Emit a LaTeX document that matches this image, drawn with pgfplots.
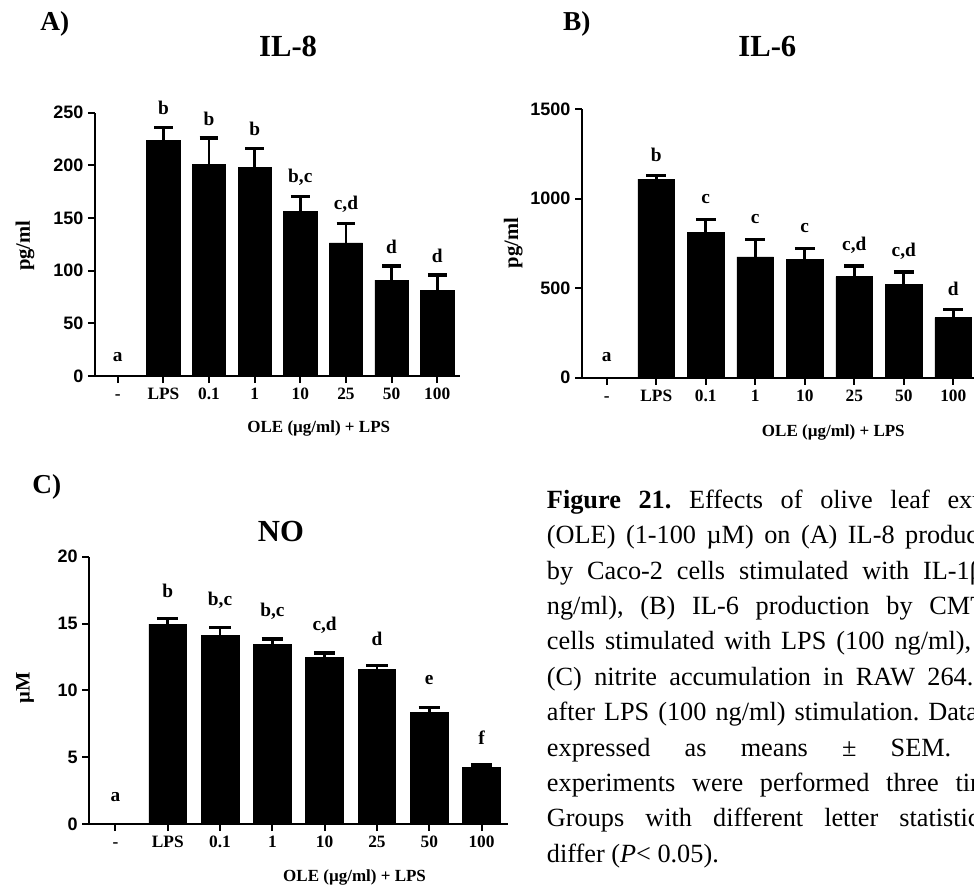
\documentclass[border=0pt]{standalone}
\usepackage{fontspec}
\setmainfont{Liberation Serif}
\newfontfamily\sansf{Liberation Sans}
\usepackage{pgfplots}
\usepackage{pgfplotstable}
\pgfplotsset{compat=1.18}
\frenchspacing

% x = category index (0 = "-", 1 = LPS, 2 = 0.1, ... 7 = 100), y = mean, e = SEM, lab = letter
\pgfplotstableread{
x y e lab
0 0 0 a
1 223.4 12.6 b
2 201.0 25.0 b
3 198.4 17.4 b
4 156.0 14.2 {b,c}
5 126.3 18.7 {c,d}
6 91.1 13.3 d
7 81.6 14.3 d
}\dataA
\pgfplotstableread{
x y e lab
0 0 0 a
1 1109 20 b
2 811 71 c
3 674 96 c
4 658 62 c
5 564 59 {c,d}
6 523 67 {c,d}
7 335 47 d
}\dataB
\pgfplotstableread{
x y e lab
0 0 0 a
1 14.96 0.43 b
2 14.11 0.57 {b,c}
3 13.46 0.38 {b,c}
4 12.47 0.32 {c,d}
5 11.57 0.27 d
6 8.38 0.32 e
7 4.21 0.20 f
}\dataC

\pgfplotsset{
  panel/.style={
    scale only axis,
    axis x line*=bottom, axis y line*=left,
    axis line style={line width=1.5pt, black},
    every tick/.style={line width=1.5pt, black},
    major tick length=5.25pt,
    tick align=outside,
    xmin=-0.5, xmax=7.5, ymin=0,
    xtick={0,...,7},
    xticklabels={-,LPS,0.1,1,10,25,50,100},
    xticklabel style={font=\bfseries\fontsize{13}{14}\selectfont, text height=9pt, text depth=0pt, anchor=north},
    yticklabel style={font=\sansf\bfseries\fontsize{13.5}{15}\selectfont},
    /pgf/number format/assume math mode=true,
    /pgf/number format/1000 sep={},
    minor tick num=0,
    clip=false,
    xlabel={OLE (µg/ml) + LPS},
    xlabel style={font=\bfseries\fontsize{12.75}{14}\selectfont, anchor=center, yshift=-1.5pt},
    ylabel style={font=\bfseries\fontsize{15.4}{17}\selectfont, anchor=center},
    title style={font=\bfseries\fontsize{23}{26}\selectfont, anchor=center, yshift=-5pt},
  },
  bars/.style={ybar, fill=black, draw=black, line width=0.5pt,
    skip coords between index={0}{1},
    error bars/y dir=plus, error bars/y explicit,
    error bars/error bar style={line width=2pt, black},
    error bars/error mark options={rotate=90, line width=2.4pt, mark size=#1, black}},
  letters/.style={draw=none, mark=none, nodes near coords, point meta=explicit symbolic,
    nodes near coords style={font=\bfseries\fontsize{14.5}{16}\selectfont, text=black, anchor=center, yshift=#1}},
}

\begin{document}
\begin{tikzpicture}[x=0.75pt, y=-0.75pt]
\useasboundingbox (0,0) rectangle (974,885);
\clip (0,0) rectangle (974,885);

% ---------------- A) IL-8
\begin{axis}[panel, at={(71.25pt,-282pt)}, anchor=south west,
  width=273.75pt, height=197.5pt,
  ymax=250, ytick={0,50,...,250},
  ylabel={pg/ml},
  ylabel style={at={(axis description cs:-0.192,0.4945)}},
  xlabel style={at={(axis description cs:0.613,-0.1926)}},
  title={IL-8},
  title style={at={(axis description cs:0.529,1.247)}},
]
\addplot[bars=7pt, bar width=25pt] table[x=x, y=y, y error=e] {\dataA};
\addplot[letters=14.5pt] table[x=x, y expr=\thisrow{y}+\thisrow{e}, meta=lab] {\dataA};
\end{axis}

% ---------------- B) IL-6
\begin{axis}[panel, at={(436.5pt,-283.3pt)}, anchor=south west,
  width=297pt, height=201.6pt,
  ymax=1500, ytick={0,500,1000,1500},
  ylabel={pg/ml},
  ylabel style={at={(axis description cs:-0.1735,0.501)}},
  xlabel style={at={(axis description cs:0.6346,-0.1946)}},
  title={IL-6},
  title style={at={(axis description cs:0.468,1.2277)}},
]
\addplot[bars=7.5pt, bar width=27.5pt] table[x=x, y=y, y error=e] {\dataB};
\addplot[letters=15.5pt] table[x=x, y expr=\thisrow{y}+\thisrow{e}, meta=lab] {\dataB};
\end{axis}

% ---------------- C) NO
\begin{axis}[panel, at={(66.98pt,-618pt)}, anchor=south west,
  width=313.8pt, height=200.5pt,
  ymax=20, ytick={0,5,...,20},
  ylabel={µM},
  ylabel style={at={(axis description cs:-0.1537,0.508)}},
  xlabel style={at={(axis description cs:0.634,-0.191)}},
  title={NO},
  title style={at={(axis description cs:0.458,1.0875)}},
]
\addplot[bars=8pt, bar width=28.3pt] table[x=x, y=y, y error=e] {\dataC};
\addplot[letters=20.5pt] table[x=x, y expr=\thisrow{y}+\thisrow{e}, meta=lab] {\dataC};
\end{axis}

% panel letters
\node[font=\bfseries\fontsize{20.5}{23}\selectfont] at (54.7,24) {A)};
\node[font=\bfseries\fontsize{20.5}{23}\selectfont] at (576.7,24) {B)};
\node[font=\bfseries\fontsize{20.5}{23}\selectfont] at (46.7,486.7) {C)};

% caption (justified column, cut by the right edge as in the reference)
\begin{scope}[every node/.style={anchor=base west, inner sep=0pt, font=\fontsize{19.7}{24}\selectfont}]
\node at (546.7,508.5) {\makebox[354pt][s]{\textbf{Figure 21.} Effects of olive leaf extract}};
\node at (546.7,543.9) {\makebox[354pt][s]{(OLE) (1-100 µM) on (A) IL-8 production}};
\node at (546.7,579.2) {\makebox[354pt][s]{by Caco-2 cells stimulated with IL-1β (1}};
\node at (546.7,614.6) {\makebox[354pt][s]{ng/ml), (B) IL-6 production by CMT-93}};
\node at (546.7,649.9) {\makebox[354pt][s]{cells stimulated with LPS (100 ng/ml), and}};
\node at (546.7,685.3) {\makebox[375pt][s]{(C) nitrite accumulation in RAW 264.7 cells}};
\node at (546.7,720.6) {\makebox[354pt][s]{after LPS (100 ng/ml) stimulation. Data are}};
\node at (546.7,756.0) {\makebox[354pt][s]{expressed as means ± SEM. All}};
\node at (546.7,791.3) {\makebox[354pt][s]{experiments were performed three times.}};
\node at (546.7,826.7) {\makebox[354pt][s]{Groups with different letter statistically}};
\node at (546.7,862.0) {differ (\textit{P}< 0.05).};
\end{scope}
\end{tikzpicture}
\end{document}
